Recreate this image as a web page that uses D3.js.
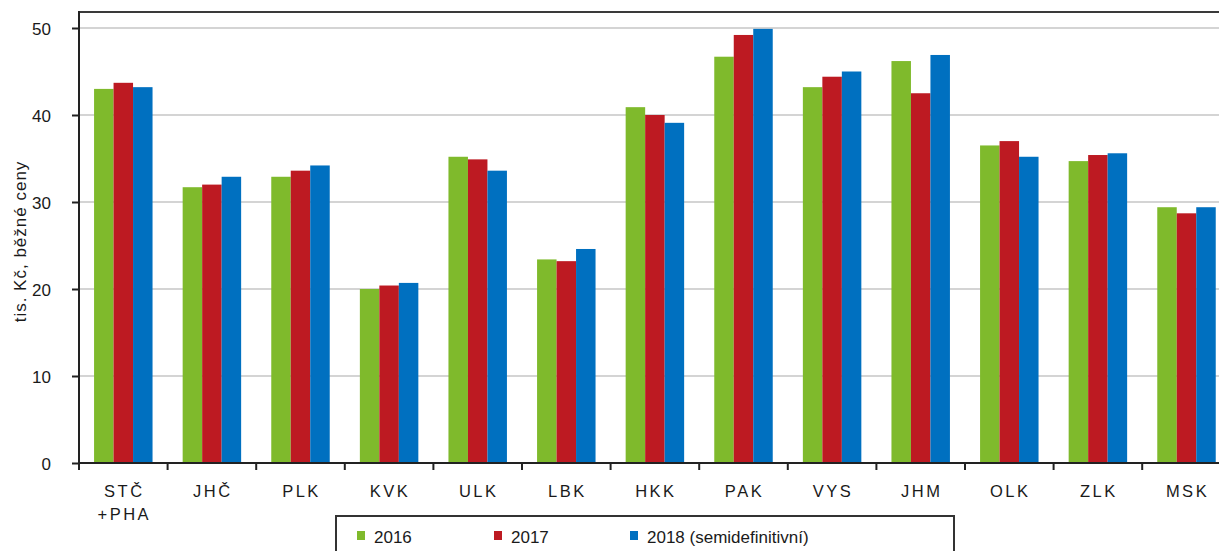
<!DOCTYPE html>
<html>
<head>
<meta charset="utf-8">
<script src="https://cdn.jsdelivr.net/npm/d3@7"></script>
<style>
  body { margin: 0; background: #fff; }
  svg { display: block; font-family: "Liberation Sans", Arial, sans-serif; }
</style>
</head>
<body>
<div id="chart"></div>
<script>
var categories = ['STČ\n+PHA', 'JHČ', 'PLK', 'KVK', 'ULK', 'LBK', 'HKK', 'PAK', 'VYS', 'JHM', 'OLK', 'ZLK', 'MSK'];
var seriesNames = ['2016', '2017', '2018 (semidefinitivní)'];
var values2016 = [43.0, 31.7, 32.9, 20.0, 35.2, 23.4, 40.9, 46.7, 43.2, 46.2, 36.5, 34.7, 29.4];
var values2017 = [43.7, 32.0, 33.6, 20.4, 34.9, 23.2, 40.0, 49.2, 44.4, 42.5, 37.0, 35.4, 28.7];
var values2018 = [43.2, 32.9, 34.2, 20.7, 33.6, 24.6, 39.1, 49.9, 45.0, 46.9, 35.2, 35.6, 29.4];
var yTicks = [0, 10, 20, 30, 40, 50];
var colors = ['#7fba2c', '#bd1a22', '#0070c0'];

(function () {
  var width = 1219;
  var height = 551;
  var margin = { top: 12, left: 79, bottom: 463 };
  var bandStep = 88.6;
  var series = [values2016, values2017, values2018];

  var svg = d3.select('#chart').append('svg')
      .attr('width', width)
      .attr('height', height);

  var xScale = d3.scaleBand()
      .domain(categories)
      .range([margin.left, margin.left + bandStep * categories.length])
      .paddingInner(0.34)
      .paddingOuter(0.17);

  var xInner = d3.scaleBand()
      .domain(d3.range(series.length))
      .range([0, xScale.bandwidth()]);

  var yScale = d3.scaleLinear()
      .domain([0, 50])
      .range([margin.bottom, 28]);

  // grid lines
  svg.append('g').selectAll('line.grid').data(yTicks.slice(1))
    .enter().append('line')
      .attr('class', 'grid')
      .attr('x1', margin.left)
      .attr('x2', width)
      .attr('y1', function (d) { return yScale(d); })
      .attr('y2', function (d) { return yScale(d); })
      .attr('stroke', '#d4d4d4')
      .attr('stroke-width', 2);

  // top border of plot area
  svg.append('line')
      .attr('x1', margin.left)
      .attr('x2', width)
      .attr('y1', margin.top)
      .attr('y2', margin.top)
      .attr('stroke', '#3a3a3a')
      .attr('stroke-width', 2);

  // bars
  var groups = svg.append('g').selectAll('g.cat').data(categories)
    .enter().append('g')
      .attr('class', 'cat')
      .attr('transform', function (d) { return 'translate(' + xScale(d) + ',0)'; });

  groups.selectAll('rect').data(function (d, i) {
      return series.map(function (s, j) { return { s: j, v: s[i] }; });
    })
    .enter().append('rect')
      .attr('x', function (d) { return xInner(d.s); })
      .attr('y', function (d) { return yScale(d.v); })
      .attr('width', xInner.bandwidth())
      .attr('height', function (d) { return yScale(0) - yScale(d.v); })
      .attr('fill', function (d) { return colors[d.s]; });

  // y axis
  var yAxis = d3.axisLeft(yScale).tickValues(yTicks).tickSize(7).tickPadding(21);
  var yG = svg.append('g')
      .attr('transform', 'translate(' + margin.left + ',0)')
      .call(yAxis);
  yG.select('.domain').remove();
  yG.append('line')
      .attr('x1', 0).attr('x2', 0)
      .attr('y1', margin.top - 1).attr('y2', margin.bottom)
      .attr('stroke', '#222').attr('stroke-width', 2);
  yG.selectAll('.tick line').attr('stroke', '#222').attr('stroke-width', 2);
  yG.selectAll('.tick text')
      .attr('fill', '#1a1a1a')
      .style('font-size', '17px')
      .attr('dy', '0.36em');

  // x axis
  var xG = svg.append('g').attr('transform', 'translate(0,' + margin.bottom + ')');
  xG.append('line')
      .attr('x1', margin.left).attr('x2', width)
      .attr('y1', 0).attr('y2', 0)
      .attr('stroke', '#222').attr('stroke-width', 2);
  var tickPos = d3.range(categories.length + 1).map(function (i) { return margin.left + i * bandStep; });
  xG.selectAll('line.xtick').data(tickPos)
    .enter().append('line')
      .attr('class', 'xtick')
      .attr('x1', function (d) { return d; })
      .attr('x2', function (d) { return d; })
      .attr('y1', 0).attr('y2', 7)
      .attr('stroke', '#222').attr('stroke-width', 2);

  var labels = xG.selectAll('text.label').data(categories)
    .enter().append('text')
      .attr('class', 'label')
      .attr('text-anchor', 'middle')
      .attr('fill', '#1a1a1a')
      .style('font-size', '16.5px')
      .style('letter-spacing', '2.5px')
      .attr('transform', function (d) { return 'translate(' + (xScale(d) + xScale.bandwidth() / 2 + 1) + ',0)'; });
  labels.selectAll('tspan').data(function (d) { return d.split('\n'); })
    .enter().append('tspan')
      .attr('x', 0)
      .attr('y', function (d, i) { return 34 + i * 23; })
      .text(function (d) { return d; });

  // y title
  svg.append('text')
      .attr('transform', 'translate(26,' + ((margin.top + margin.bottom) / 2 + 4) + ') rotate(-90)')
      .attr('text-anchor', 'middle')
      .attr('fill', '#1a1a1a')
      .style('font-size', '17px')
      .style('letter-spacing', '1px')
      .text('tis. Kč, běžné ceny');

  // legend
  var legend = svg.append('g').attr('transform', 'translate(336,516)');
  legend.append('rect')
      .attr('x', 0).attr('y', 0)
      .attr('width', 618).attr('height', 60)
      .attr('fill', '#fff')
      .attr('stroke', '#333')
      .attr('stroke-width', 2);
  var legendX = [21, 158, 294];
  var items = legend.selectAll('g.item').data(seriesNames)
    .enter().append('g')
      .attr('class', 'item')
      .attr('transform', function (d, i) { return 'translate(' + legendX[i] + ',0)'; });
  items.append('rect')
      .attr('x', 0).attr('y', 15)
      .attr('width', 8).attr('height', 9)
      .attr('fill', function (d, i) { return colors[i]; });
  items.append('text')
      .attr('x', 17).attr('y', 27)
      .attr('fill', '#1a1a1a')
      .style('font-size', '17px')
      .text(function (d) { return d; });
})();
</script>
</body>
</html>
